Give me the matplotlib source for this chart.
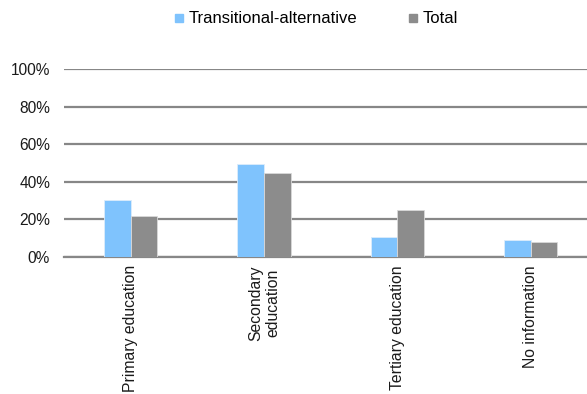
import numpy as np
import matplotlib.pyplot as plt
from matplotlib.lines import Line2D

# data
categories = ['Primary education', 'Secondary\neducation', 'Tertiary education', 'No information']
transitional = [0.303, 0.496, 0.107, 0.091]
total = [0.216, 0.449, 0.251, 0.080]

blue = '#7fc3fd'
grey = '#8c8c8c'
grid_col = '#878787'

plt.rcParams['font.family'] = ['Liberation Sans', 'DejaVu Sans']

fig = plt.figure(figsize=(5.87, 3.94), dpi=100)
ax = fig.add_axes([64 / 587, 0.348, 1 - 64 / 587, 0.477])

x = np.arange(len(categories))
w = 0.2
ax.bar(x - w / 2, transitional, w, color=blue, edgecolor='#dcecfb', linewidth=0.6, zorder=3)
ax.bar(x + w / 2, total, w, color=grey, edgecolor='#d9d9d9', linewidth=0.6, zorder=3)

ax.set_ylim(0, 1)
ax.set_xlim(-0.5, -0.5 + (587 - 64) / 133.3)
ax.set_yticks(np.arange(0, 1.01, 0.2))
ax.set_yticklabels([f'{int(round(v * 100))}%' for v in np.arange(0, 1.01, 0.2)], fontsize=11.2, color='#1a1a1a')
ax.yaxis.grid(True, color=grid_col, linewidth=1.6, zorder=0)
ax.set_axisbelow(True)

ax.set_xticks(x)
ax.set_xticklabels(categories, rotation=90, fontsize=11.3, color='#1a1a1a', va='top', ha='center', ma='center')
ax.tick_params(axis='x', length=0, pad=6)
ax.tick_params(axis='y', length=0, pad=10)

for s in ['top', 'right', 'left']:
    ax.spines[s].set_visible(False)
ax.spines['bottom'].set_color(grid_col)
ax.spines['bottom'].set_linewidth(1.6)

handles = [
    Line2D([], [], marker='s', linestyle='none', markersize=6, markerfacecolor=blue, markeredgecolor=blue),
    Line2D([], [], marker='s', linestyle='none', markersize=6, markerfacecolor=grey, markeredgecolor=grey),
]
fig.legend(handles, ['Transitional-alternative', 'Total'], loc='center', bbox_to_anchor=(0.539, 0.952),
           ncol=2, frameon=False, fontsize=12, handlelength=0.5, handletextpad=0.3, columnspacing=3.1)

fig.savefig('out.png', dpi=100)
